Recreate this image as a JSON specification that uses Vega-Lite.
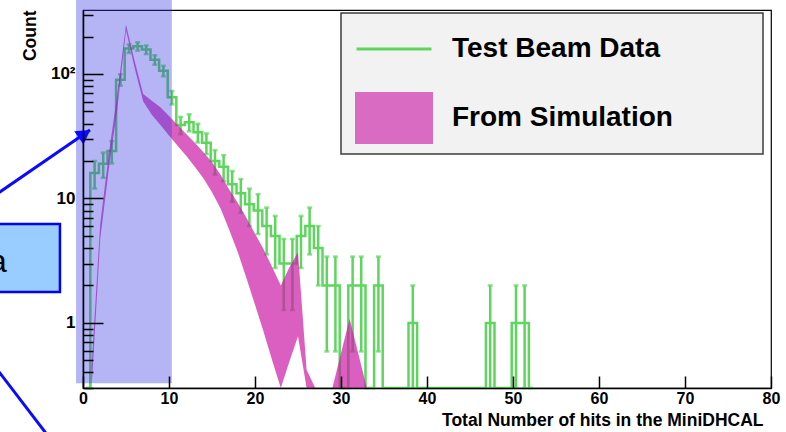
{
  "$schema": "https://vega.github.io/schema/vega-lite/v6.json",
  "width": 688,
  "height": 378,
  "autosize": {"type": "none"},
  "padding": {"left": 83, "top": 10, "right": 15, "bottom": 44},
  "background": "white",
  "config": {"view": {"stroke": "black", "strokeWidth": 1.2}, "font": "Liberation Sans"},
  "datasets": {
    "tb": [
      {"hits": 0.35, "count": 0},
      {"hits": 1.35, "count": 16, "lo": 12, "hi": 20},
      {"hits": 2.35, "count": 19, "lo": 14.64, "hi": 23.36},
      {"hits": 3.35, "count": 24, "lo": 19.1, "hi": 28.9},
      {"hits": 4.35, "count": 90, "lo": 80.51, "hi": 99.49},
      {"hits": 5.35, "count": 160, "lo": 147.35, "hi": 172.65},
      {"hits": 6.35, "count": 167, "lo": 154.08, "hi": 179.92},
      {"hits": 7.35, "count": 157, "lo": 144.47, "hi": 169.53},
      {"hits": 8.35, "count": 130, "lo": 118.6, "hi": 141.4},
      {"hits": 9.35, "count": 106, "lo": 95.7, "hi": 116.3},
      {"hits": 10.35, "count": 65, "lo": 56.94, "hi": 73.06},
      {"hits": 11.35, "count": 39, "lo": 32.76, "hi": 45.24},
      {"hits": 12.35, "count": 41, "lo": 34.6, "hi": 47.4},
      {"hits": 13.35, "count": 34, "lo": 28.17, "hi": 39.83},
      {"hits": 14.35, "count": 28, "lo": 22.71, "hi": 33.29},
      {"hits": 15.35, "count": 20, "lo": 15.53, "hi": 24.47},
      {"hits": 16.35, "count": 18, "lo": 13.76, "hi": 22.24},
      {"hits": 17.35, "count": 13, "lo": 9.39, "hi": 16.61},
      {"hits": 18.35, "count": 11, "lo": 7.68, "hi": 14.32},
      {"hits": 19.35, "count": 9, "lo": 6, "hi": 12},
      {"hits": 20.35, "count": 8, "lo": 5.17, "hi": 10.83},
      {"hits": 21.35, "count": 6, "lo": 3.55, "hi": 8.45},
      {"hits": 22.35, "count": 5, "lo": 2.76, "hi": 7.24},
      {"hits": 23.35, "count": 3, "lo": 1.27, "hi": 4.73},
      {"hits": 24.35, "count": 3, "lo": 1.27, "hi": 4.73},
      {"hits": 25.35, "count": 5, "lo": 2.76, "hi": 7.24},
      {"hits": 26.35, "count": 6, "lo": 3.55, "hi": 8.45},
      {"hits": 27.35, "count": 4, "lo": 2, "hi": 6},
      {"hits": 28.35, "count": 2, "lo": 0.59, "hi": 3.41},
      {"hits": 29.35, "count": 2, "lo": 0.59, "hi": 3.41},
      {"hits": 30.35, "count": 0},
      {"hits": 31.35, "count": 2, "lo": 0.59, "hi": 3.41},
      {"hits": 32.35, "count": 2, "lo": 0.59, "hi": 3.41},
      {"hits": 33.35, "count": 0},
      {"hits": 34.35, "count": 2, "lo": 0.59, "hi": 3.41},
      {"hits": 35.35, "count": 0},
      {"hits": 36.35, "count": 0},
      {"hits": 37.35, "count": 0},
      {"hits": 38.35, "count": 1, "lo": 0, "hi": 2},
      {"hits": 39.35, "count": 0},
      {"hits": 40.35, "count": 0},
      {"hits": 41.35, "count": 0},
      {"hits": 42.35, "count": 0},
      {"hits": 43.35, "count": 0},
      {"hits": 44.35, "count": 0},
      {"hits": 45.35, "count": 0},
      {"hits": 46.35, "count": 0},
      {"hits": 47.35, "count": 1, "lo": 0, "hi": 2},
      {"hits": 48.35, "count": 0},
      {"hits": 49.35, "count": 0},
      {"hits": 50.35, "count": 1, "lo": 0, "hi": 2},
      {"hits": 51.35, "count": 1, "lo": 0, "hi": 2},
      {"hits": 52.35, "count": 0}
    ],
    "sim": [
      {"x": 1, "lo": 0, "hi": 0.45},
      {"x": 2, "lo": 4.7, "hi": 6.2},
      {"x": 3, "lo": 17.2, "hi": 22.8},
      {"x": 4, "lo": 53, "hi": 70},
      {"x": 5, "lo": 225, "hi": 250},
      {"x": 6, "lo": 112, "hi": 128},
      {"x": 7, "lo": 60, "hi": 69},
      {"x": 8, "lo": 47, "hi": 61},
      {"x": 9, "lo": 39, "hi": 54},
      {"x": 10, "lo": 32, "hi": 46},
      {"x": 11, "lo": 26.5, "hi": 39},
      {"x": 12, "lo": 22, "hi": 33},
      {"x": 13, "lo": 18, "hi": 28},
      {"x": 14, "lo": 14.5, "hi": 23.5},
      {"x": 15, "lo": 11.2, "hi": 19.5},
      {"x": 16, "lo": 8.3, "hi": 15.5},
      {"x": 17, "lo": 5.6, "hi": 11.8},
      {"x": 18, "lo": 3.7, "hi": 9.2},
      {"x": 19, "lo": 2.3, "hi": 7},
      {"x": 20, "lo": 1.4, "hi": 5.2},
      {"x": 21, "lo": 0.85, "hi": 3.9},
      {"x": 22, "lo": 0.5, "hi": 2.8},
      {"x": 23, "lo": 0, "hi": 2},
      {"x": 24, "lo": 0.49, "hi": 2.8},
      {"x": 25, "lo": 0.78, "hi": 3.7},
      {"x": 26, "lo": 0, "hi": 0.42},
      {"x": 27, "lo": 0, "hi": 0},
      {"x": 28, "lo": 0, "hi": 0},
      {"x": 29, "lo": 0, "hi": 0},
      {"x": 30, "lo": 0, "hi": 0.57},
      {"x": 31, "lo": 0, "hi": 1.08},
      {"x": 32, "lo": 0, "hi": 0.57},
      {"x": 33, "lo": 0, "hi": 0}
    ],
    "hatch": [{"x0": -0.81, "x1": 10.33, "y0": 0.328, "y1": 393}],
    "callout": [{"x0": -12, "x1": -2.68, "y0": 1.775, "y1": 6.24}],
    "note": [{"x": -8.85, "y": 2.57, "text": "a"}],
    "arrows": [
      {"id": 1, "x": -10.83, "y": 9.93},
      {"id": 1, "x": 0.81, "y": 35.5},
      {"id": 2, "x": -10.83, "y": 0.505},
      {"id": 2, "x": -3.61, "y": 0.1124}
    ],
    "heads": [{"x": 0.18, "y": 33.0}]
  },
  "layer": [
    {
      "layer": [
        {
          "data": {"name": "tb"},
          "mark": {"type": "line", "interpolate": "step", "strokeWidth": 2.5},
          "encoding": {
            "x": {
              "field": "hits", "type": "quantitative",
              "scale": {"domain": [0, 80], "nice": false, "zero": false},
              "axis": {
                "tickCount": 8,
                "grid": false, "ticks": true, "zindex": 1,
                "tickSize": -12, "tickWidth": 1.5, "tickColor": "black", "tickOpacity": 1,
                "domainColor": "black", "domainWidth": 1.5,
                "labelFont": "Liberation Sans", "labelFontWeight": "bold", "labelFontSize": 16, "labelColor": "black",
                "labelPadding": 14, "labelFlush": false, "labelOverlap": false,
                "title": "Total Number of hits in the MiniDHCAL",
                "titleFont": "Liberation Sans", "titleFontWeight": "bold", "titleFontSize": 17.5, "titleColor": "black",
                "titleX": 680, "titleY": 37, "titleAlign": "right", "titleBaseline": "alphabetic"
              }
            },
            "y": {
              "field": "count", "type": "quantitative",
              "scale": {"type": "log", "domain": [0.3, 326.6], "nice": false, "clamp": true},
              "axis": {
                "values": [0.3,0.4,0.5,0.6,0.7,0.8,0.9,1,2,3,4,5,6,7,8,9,10,20,30,40,50,60,70,80,90,100,200,300],
                "labelExpr": "datum.value == 1 ? '1' : datum.value == 10 ? '10' : datum.value == 100 ? '10²' : ''",
                "grid": false, "ticks": true, "zindex": 1,
                "tickSize": {"expr": "(datum.value == 1 || datum.value == 10 || datum.value == 100) ? -20 : -10"},
                "tickWidth": 1.5, "tickColor": "black", "tickOpacity": 1,
                "domainColor": "black", "domainWidth": 1.5,
                "labelFont": "Liberation Sans", "labelFontWeight": "bold", "labelFontSize": 17, "labelColor": "black",
                "labelPadding": 28, "labelFlush": false, "labelOverlap": false,
                "title": "Count",
                "titleFont": "Liberation Sans", "titleFontWeight": "bold", "titleFontSize": 17.5, "titleColor": "black",
                "titleAngle": -90, "titleX": -48, "titleY": 0, "titleAlign": "right", "titleBaseline": "alphabetic"
              }
            },
            "color": {
              "datum": "Test Beam Data", "type": "nominal",
              "scale": {"domain": ["Test Beam Data", "From Simulation"], "range": ["#5ed65e", "#cc1aa6"]},
              "legend": {
                "orient": "none", "legendX": 258, "legendY": 3,
                "title": null,
                "fillColor": "#f2f2f2", "strokeColor": "#3c3c3c", "padding": 10,
                "labelFont": "Liberation Sans", "labelFontSize": 28, "labelFontWeight": "bold", "labelColor": "black",
                "labelOffset": 19, "labelLimit": 500,
                "symbolSize": 5625, "symbolOffset": 4, "clipHeight": 52, "rowPadding": 17,
                "encode": {
                  "entries": {"update": {"width": {"value": 402}}},
                  "symbols": {"update": {
                    "shape": {"signal": "datum.value === 'Test Beam Data' ? 'M-1,0H1' : 'M-1,-0.68H1V0.68H-1Z'"},
                    "strokeWidth": {"value": 3},
                    "opacity": {"signal": "datum.value === 'Test Beam Data' ? 1 : 0.62"}
                  }},
                  "legend": {"update": {"strokeWidth": {"value": 1.5}}}
                }
              }
            }
          }
        },
        {
          "data": {"name": "tb"},
          "transform": [{"filter": "datum.count > 0"}],
          "mark": {"type": "rule", "color": "#5ed65e", "strokeWidth": 2.5},
          "encoding": {
            "x": {"field": "hits", "type": "quantitative", "scale": {"domain": [0, 80], "nice": false, "zero": false}},
            "y": {"field": "lo", "type": "quantitative", "scale": {"type": "log", "domain": [0.3, 326.6], "nice": false, "clamp": true}},
            "y2": {"field": "hi"}
          }
        },
        {
          "data": {"name": "tb"},
          "transform": [{"filter": "datum.count > 0"}],
          "mark": {"type": "tick", "orient": "horizontal", "color": "#5ed65e", "size": 5, "thickness": 2.5},
          "encoding": {
            "x": {"field": "hits", "type": "quantitative", "scale": {"domain": [0, 80], "nice": false, "zero": false}},
            "y": {"field": "hi", "type": "quantitative", "scale": {"type": "log", "domain": [0.3, 326.6], "nice": false, "clamp": true}}
          }
        },
        {
          "data": {"name": "tb"},
          "transform": [{"filter": "datum.count > 0"}],
          "mark": {"type": "tick", "orient": "horizontal", "color": "#5ed65e", "size": 5, "thickness": 2.5},
          "encoding": {
            "x": {"field": "hits", "type": "quantitative", "scale": {"domain": [0, 80], "nice": false, "zero": false}},
            "y": {"field": "lo", "type": "quantitative", "scale": {"type": "log", "domain": [0.3, 326.6], "nice": false, "clamp": true}}
          }
        },
        {
          "data": {"name": "sim"},
          "mark": {"type": "area", "opacity": 0.7, "interpolate": "linear"},
          "encoding": {
            "x": {"field": "x", "type": "quantitative", "scale": {"domain": [0, 80], "nice": false, "zero": false}},
            "y": {"field": "hi", "type": "quantitative", "scale": {"type": "log", "domain": [0.3, 326.6], "nice": false, "clamp": true}},
            "y2": {"field": "lo"},
            "color": {"datum": "From Simulation", "type": "nominal"}
          }
        }
      ]
    },
    {
      "layer": [
        {
          "data": {"name": "hatch"},
          "mark": {"type": "rect", "fill": "#3c3ce6", "fillOpacity": 0.38},
          "encoding": {
            "x": {"field": "x0", "type": "quantitative", "scale": {"domain": [0, 80], "nice": false, "zero": false}, "axis": null},
            "x2": {"field": "x1"},
            "y": {"field": "y0", "type": "quantitative", "scale": {"type": "log", "domain": [0.3, 326.6], "nice": false}, "axis": null},
            "y2": {"field": "y1"}
          }
        },
        {
          "data": {"name": "callout"},
          "mark": {"type": "rect", "fill": "#99ccff", "stroke": "#0000ff", "strokeWidth": 2.5},
          "encoding": {
            "x": {"field": "x0", "type": "quantitative", "scale": {"domain": [0, 80], "nice": false, "zero": false}, "axis": null},
            "x2": {"field": "x1"},
            "y": {"field": "y0", "type": "quantitative", "scale": {"type": "log", "domain": [0.3, 326.6], "nice": false}, "axis": null},
            "y2": {"field": "y1"}
          }
        },
        {
          "data": {"name": "note"},
          "mark": {"type": "text", "align": "right", "baseline": "alphabetic", "fontSize": 32, "font": "Liberation Sans", "color": "black"},
          "encoding": {
            "x": {"field": "x", "type": "quantitative", "scale": {"domain": [0, 80], "nice": false, "zero": false}, "axis": null},
            "y": {"field": "y", "type": "quantitative", "scale": {"type": "log", "domain": [0.3, 326.6], "nice": false}, "axis": null},
            "text": {"field": "text"}
          }
        },
        {
          "data": {"name": "arrows"},
          "mark": {"type": "line", "color": "#0a0aff", "strokeWidth": 3},
          "encoding": {
            "x": {"field": "x", "type": "quantitative", "scale": {"domain": [0, 80], "nice": false, "zero": false}, "axis": null},
            "y": {"field": "y", "type": "quantitative", "scale": {"type": "log", "domain": [0.3, 326.6], "nice": false}, "axis": null},
            "detail": {"field": "id"}
          }
        },
        {
          "data": {"name": "heads"},
          "mark": {"type": "point", "shape": "triangle-up", "filled": true, "size": 260, "angle": 55, "color": "#0a0aff", "opacity": 1},
          "encoding": {
            "x": {"field": "x", "type": "quantitative", "scale": {"domain": [0, 80], "nice": false, "zero": false}, "axis": null},
            "y": {"field": "y", "type": "quantitative", "scale": {"type": "log", "domain": [0.3, 326.6], "nice": false}, "axis": null}
          }
        }
      ]
    }
  ],
  "resolve": {"scale": {"y": "independent", "x": "independent"}}
}
